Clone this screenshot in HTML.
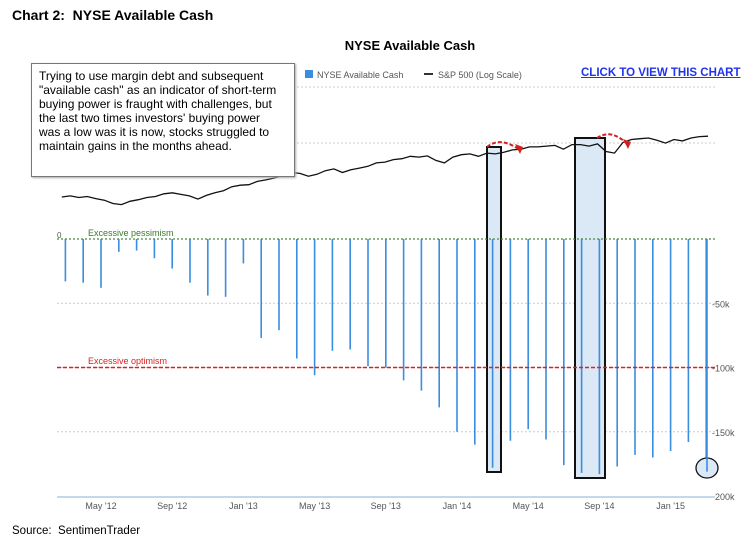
<!DOCTYPE html>
<html><head><meta charset="utf-8"><style>
body{margin:0;background:#fff;width:750px;height:552px;overflow:hidden;font-family:"Liberation Sans",Arial,sans-serif;}
#wrap{position:relative;width:750px;height:552px;}
.t{position:absolute;}
</style></head><body><div id="wrap">
<div class="t" style="left:12px;top:7px;font-size:14px;font-weight:bold;font-family:'Liberation Sans',sans-serif;">Chart 2:&nbsp; NYSE Available Cash</div>
<div class="t" style="left:300px;top:38px;width:220px;text-align:center;font-size:13px;font-weight:bold;">NYSE Available Cash</div>
<div class="t" style="left:581px;top:67px;font-size:11.5px;font-weight:bold;color:#2233ee;text-decoration:underline;">CLICK TO VIEW THIS CHART</div>
<div class="t" style="left:12px;top:525px;font-size:11.5px;">Source:&nbsp; SentimenTrader</div>
<svg id="svg" width="750" height="552" style="position:absolute;left:0;top:0"></svg>
<div class="t" style="left:31px;top:63px;width:255px;height:107px;border:1.5px solid #777;background:#fff;padding:5px 0 0 7px;font-size:12px;line-height:14px;white-space:nowrap;box-shadow:1px 1px 2px #aaa;">Trying to use margin debt and subsequent<br>"available cash" as an indicator of short-term<br>buying power is fraught with challenges, but<br>the last two times investors' buying power<br>was a low was it is now, stocks struggled to<br>maintain gains in the months ahead.</div>
</div>
<script>
const barMonths=[-2,-1,0,1,2,3,4,5,6,7,8,9,10,11,12,13,14,15,16,17,18,19,20,21,22,23,24,25,26,27,28,29,30,31,32,33,34];
const cashValues=[-33,-34,-38,-10,-9,-15,-23,-34,-44,-45,-19,-77,-71,-93,-106,-87,-86,-99,-100,-110,-118,-131,-150,-160,-178,-157,-148,-156,-176,-182,-183,-177,-168,-170,-165,-158,-181];
const yTicks=[-50,-100,-150,-200];
const yTickLabels=["-50k","-100k","-150k","-200k"];
const xTickMonths=[0,4,8,12,16,20,24,28,32];
const xTickLabels=["May '12","Sep '12","Jan '13","May '13","Sep '13","Jan '14","May '14","Sep '14","Jan '15"];
const spx=[1400,1410,1395,1405,1385,1370,1340,1330,1360,1375,1395,1405,1430,1440,1425,1410,1380,1415,1440,1460,1500,1515,1520,1555,1570,1590,1620,1650,1640,1610,1630,1670,1690,1650,1680,1700,1720,1760,1770,1800,1810,1840,1830,1845,1790,1760,1830,1860,1870,1840,1880,1870,1890,1920,1930,1960,1960,1970,1980,1930,1990,1990,1970,2000,1900,1880,2020,2060,2070,2080,2050,2010,2060,2040,2080,2100,2105];
const spxStart=-2.2, spxEnd=34.1;
const NS="http://www.w3.org/2000/svg";
const svg=document.getElementById('svg');
const xm=m=>101+m*17.8;
const yc=v=>239-v*(257/200);
const ys=v=>197-149*Math.log(v/1400);
function el(tag,attrs,parent){const e=document.createElementNS(NS,tag);for(const k in attrs)e.setAttribute(k,attrs[k]);(parent||svg).appendChild(e);return e;}
[87,143].forEach(y=>{const g=el('line',{x1:57,x2:715,y1:y,y2:y,stroke:'#ccc','stroke-dasharray':'2,2'});

});
yTicks.forEach((v,i)=>{
 if(v>-200){const g=el('line',{x1:57,x2:715,y1:yc(v),y2:yc(v),stroke:'#ccc','stroke-dasharray':'2,2'});
 
 }
 const t=el('text',{x:712,y:yc(v)+4,'font-size':9,fill:'#555'});t.textContent=yTickLabels[i];
 
 
});
const ax=el('line',{x1:57,x2:715,y1:yc(-200)+1,y2:yc(-200)+1,stroke:'#c5d8ea','stroke-width':2});


xTickMonths.forEach((m,i)=>{const t=el('text',{x:xm(m),y:509,'font-size':9,fill:'#555','text-anchor':'middle'});t.textContent=xTickLabels[i];

});
const b1=el('rect',{x:487,y:147,width:14,height:325,fill:'#dbe8f6',stroke:'#111','stroke-width':2});


const b2=el('rect',{x:575,y:138,width:30,height:340,fill:'#dbe8f6',stroke:'#111','stroke-width':2});


barMonths.forEach((m,i)=>{const b=el('line',{x1:xm(m),x2:xm(m),y1:yc(0),y2:yc(cashValues[i]),stroke:'#3a8de0','stroke-width':1.6});

});
const z=el('line',{x1:57,x2:715,y1:yc(0),y2:yc(0),stroke:'#4a8a3a','stroke-width':1.3,'stroke-dasharray':'2,2'});


const r=el('line',{x1:57,x2:715,y1:yc(-100),y2:yc(-100),stroke:'#e02020','stroke-width':1.5,'stroke-dasharray':'4,2'});


const tp=el('text',{x:88,y:236,'font-size':9,fill:'#3a7a2a'});tp.textContent='Excessive pessimism';


const to=el('text',{x:88,y:364,'font-size':9,fill:'#e02020'});to.textContent='Excessive optimism';


const t0=el('text',{x:57,y:238,'font-size':8,fill:'#555'});t0.textContent='0';


const pts=spx.map((v,i)=>{const m=spxStart+i*(spxEnd-spxStart)/(spx.length-1);return xm(m).toFixed(1)+','+ys(v).toFixed(1);}).join(' ');
const pl=el('polyline',{points:pts,fill:'none',stroke:'#111','stroke-width':1.3});


const c=el('ellipse',{cx:707,cy:468,rx:11,ry:10,fill:'#dbe8f6',stroke:'#111','stroke-width':1.3});


const lb=el('line',{x1:707,x2:707,y1:yc(0),y2:yc(cashValues[cashValues.length-1]),stroke:'#3a8de0','stroke-width':1.6});


[[487,147,520,150,500,136],[597,138,628,145,612,128]].forEach(a=>{
 const p=el('path',{d:`M${a[0]},${a[1]} Q${a[4]},${a[5]} ${a[2]},${a[3]}`,fill:'none',stroke:'#d42020','stroke-width':2,'stroke-dasharray':'4,2'});
 
 
 const h=el('polygon',{points:`${a[2]-5},${a[3]-6} ${a[2]+3},${a[3]-3} ${a[2]},${a[3]+4}`,fill:'#d42020'});
 
 
});
const ls=el('rect',{x:305,y:70,width:8,height:8,fill:'#3a8de0'});


const lt=el('text',{x:317,y:78,'font-size':9,fill:'#555'});lt.textContent='NYSE Available Cash';


const ll=el('line',{x1:424,x2:433,y1:74,y2:74,stroke:'#333','stroke-width':2});


const lt2=el('text',{x:438,y:78,'font-size':9,fill:'#555'});lt2.textContent='S&P 500 (Log Scale)';


</script></body></html>
